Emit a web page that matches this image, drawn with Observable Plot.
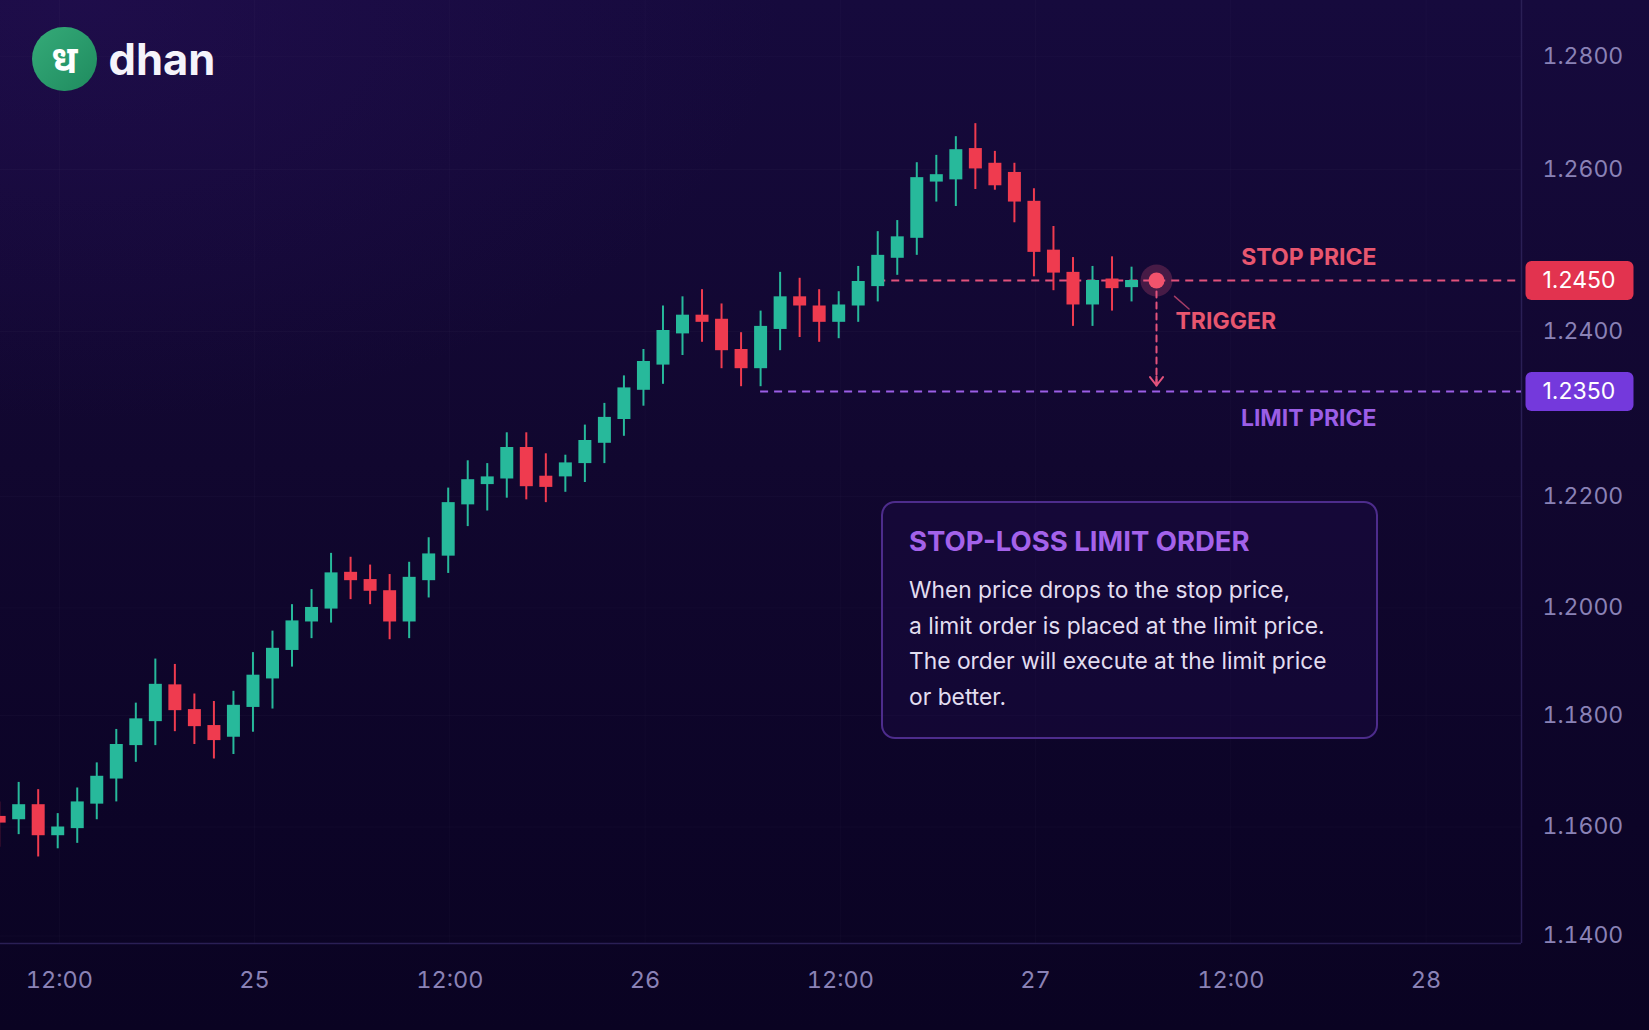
<!DOCTYPE html>
<html lang="en">
<head>
<meta charset="utf-8">
<title>Stop-loss limit order</title>
<script src="https://cdn.jsdelivr.net/npm/d3@7"></script>
<script src="https://cdn.jsdelivr.net/npm/@observablehq/plot@0.6"></script>
<style>
  html, body { margin: 0; padding: 0; }
  body {
    width: 1649px; height: 1030px; overflow: hidden; position: relative;
    font-family: Inter, "Noto Sans", sans-serif;
    background:
      radial-gradient(ellipse 1000px 600px at 5% 0%, rgba(50, 20, 105, 0.30), rgba(50, 20, 105, 0) 70%),
      linear-gradient(180deg, #160a3d 0%, #11072f 45%, #0c0427 80%, #0a0322 100%);
  }
  #chart { position: absolute; left: 0; top: 0; }
  .logo { position: absolute; left: 32px; top: 26.5px; display: flex; align-items: center; }
  .logo .mark {
    width: 64.5px; height: 64.5px; border-radius: 50%;
    background: linear-gradient(135deg, #35aa78 0%, #2a9b6c 50%, #1f8b5e 100%);
    display: flex; align-items: center; justify-content: center;
    color: #ffffff; font-size: 38px; font-weight: 700; line-height: 1;
  }
  .logo .word { margin-left: 12px; color: #f5f3fb; font-size: 43.5px; font-weight: 700; }
  .box {
    position: absolute; left: 881px; top: 500.5px; width: 497px; height: 238px;
    box-sizing: border-box; border: 2px solid #4d2c8c; border-radius: 14px;
    background: rgba(34, 14, 78, 0.30);
  }
  .box .title {
    position: absolute; left: 26px; top: 22px; font-size: 27.5px; line-height: 32px;
    font-weight: 700; color: #a462ea; white-space: nowrap;
  }
  .box .body {
    position: absolute; left: 26px; top: 69.5px; font-size: 22.8px; line-height: 35.6px;
    color: #e2ddf0; white-space: nowrap;
  }
</style>
</head>
<body>
<div id="chart"></div>
<div class="logo"><div class="mark">ध</div><div class="word">dhan</div></div>
<div class="box">
  <div class="title">STOP-LOSS LIMIT ORDER</div>
  <div class="body">When price drops to the stop price,<br>a limit order is placed at the limit price.<br>The order will execute at the limit price<br>or better.</div>
</div>
<script>
// ---- data ----
const open  = [1.1619,1.1613,1.1640,1.1584,1.1597,1.1641,1.1686,1.1746,1.1789,1.1857,
               1.1811,1.1782,1.1761,1.1815,1.1868,1.1921,1.1974,1.1998,1.2064,1.2051,
               1.2031,1.1974,1.2049,1.2093,1.2185,1.2217,1.2225,1.2270,1.2229,1.2228,
               1.2247,1.2276,1.2310,1.2351,1.2372,1.2398,1.2416,1.2412,1.2385,1.2369,
               1.2402,1.2434,1.2425,1.2409,1.2425,1.2444,1.2480,1.2507,1.2583,1.2586,
               1.2637,1.2611,1.2596,1.2557,1.2491,1.2461,1.2426,1.2452,1.2443];
const high  = [1.1645,1.1680,1.1667,1.1624,1.1670,1.1715,1.1775,1.1823,1.1905,1.1895,
               1.1840,1.1826,1.1845,1.1917,1.1957,1.2006,1.2033,1.2098,1.2091,1.2077,
               1.2060,1.2082,1.2126,1.2212,1.2251,1.2247,1.2291,1.2291,1.2261,1.2259,
               1.2302,1.2333,1.2363,1.2385,1.2425,1.2434,1.2441,1.2427,1.2399,1.2420,
               1.2461,1.2453,1.2441,1.2439,1.2469,1.2516,1.2531,1.2612,1.2625,1.2658,
               1.2681,1.2632,1.2611,1.2574,1.2523,1.2481,1.2469,1.2482,1.2468];
const low   = [1.1563,1.1586,1.1545,1.1560,1.1570,1.1613,1.1645,1.1716,1.1746,1.1771,
               1.1748,1.1722,1.1730,1.1770,1.1812,1.1890,1.1943,1.1972,1.2015,1.2006,
               1.1941,1.1943,1.2018,1.2062,1.2146,1.2174,1.2197,1.2194,1.2189,1.2206,
               1.2220,1.2247,1.2286,1.2329,1.2356,1.2380,1.2391,1.2369,1.2354,1.2354,
               1.2384,1.2395,1.2391,1.2394,1.2409,1.2429,1.2457,1.2484,1.2556,1.2550,
               1.2573,1.2572,1.2528,1.2455,1.2440,1.2405,1.2405,1.2420,1.2429];
const close = [1.1607,1.1640,1.1584,1.1600,1.1645,1.1691,1.1748,1.1794,1.1858,1.1809,
               1.1780,1.1755,1.1819,1.1875,1.1925,1.1976,1.2001,1.2063,1.2049,1.2030,
               1.1974,1.2055,1.2097,1.2189,1.2224,1.2228,1.2270,1.2214,1.2213,1.2248,
               1.2280,1.2313,1.2353,1.2375,1.2401,1.2416,1.2409,1.2384,1.2369,1.2405,
               1.2434,1.2425,1.2409,1.2426,1.2449,1.2484,1.2509,1.2589,1.2593,1.2635,
               1.2601,1.2578,1.2556,1.2488,1.2460,1.2426,1.2450,1.2442,1.2450];
const candleStart = Date.UTC(2024, 0, 24, 8, 18);   // first (partly hidden) candle
const candleStepMinutes = 72;
const xTicks = ["2024-01-24T12:00Z","2024-01-25T00:00Z","2024-01-25T12:00Z","2024-01-26T00:00Z",
                "2024-01-26T12:00Z","2024-01-27T00:00Z","2024-01-27T12:00Z","2024-01-28T00:00Z"].map(s => new Date(s));
const yTicks = [1.14, 1.16, 1.18, 1.20, 1.22, 1.24, 1.26, 1.28];
const stopPrice = 1.2450;
const limitPrice = 1.2350;
const triggerTime = new Date("2024-01-27T07:26Z");
const stopLineFromCandle = 45;
const limitLineFromCandle = 39;
const arrowEndPrice = 1.2355;
const leaderEnd = {date: new Date("2024-01-27T09:26Z"), price: 1.2422};

// The reference's price axis is not evenly spaced: these calibration knots
// (price -> share of the plot height) reproduce its tick spacing.
const yKnotPrice = [1.1386, 1.14, 1.16, 1.18, 1.20, 1.22, 1.235, 1.24, 1.245, 1.26, 1.28, 1.2899];
const yKnotShare = [0, 0.00795, 0.12354, 0.24178, 0.35578, 0.47402, 0.58537, 0.64899, 0.70308, 0.82078, 0.94083, 1];

// ---- styles ----
const GREEN = "#27b99b", RED = "#ef3b4f";
const STOP = "#e3527c", LIMIT = "#9b5ee6", LABEL_STOP = "#e8566f";
const AXIS = "#8a82b6";

const warp = d3.scaleLinear(yKnotPrice, yKnotShare);
const fmtY = d3.format(".4f");
const candles = open.map((o, i) => ({
  date: new Date(candleStart + i * candleStepMinutes * 60000),
  open: o, high: high[i], low: low[i], close: close[i], up: close[i] >= o
}));
const xDomain = [new Date("2024-01-24T08:23Z"), new Date("2024-01-28T05:52Z")];

const fmtX = d => d.getUTCHours() === 0 ? d3.utcFormat("%-d")(d) : d3.utcFormat("%H:%M")(d);
const col = d => d.up ? GREEN : RED;

// rounded-rectangle symbol for the price badges
const badgeSymbol = {
  draw(ctx) {
    const w = 54, h = 19.5, r = 6;
    ctx.moveTo(-w + r, -h);
    ctx.lineTo(w - r, -h); ctx.arcTo(w, -h, w, -h + r, r);
    ctx.lineTo(w, h - r); ctx.arcTo(w, h, w - r, h, r);
    ctx.lineTo(-w + r, h); ctx.arcTo(-w, h, -w, h - r, r);
    ctx.lineTo(-w, -h + r); ctx.arcTo(-w, -h, -w + r, -h, r);
    ctx.closePath();
  }
};
const badges = [
  {date: xDomain[1], price: stopPrice, fill: "#e2334f"},
  {date: xDomain[1], price: limitPrice, fill: "#7439dc"}
];

const chart = Plot.plot({
  width: 1649, height: 1030,
  marginLeft: 0, marginRight: 128, marginTop: 0, marginBottom: 87,
  style: {background: "transparent", color: AXIS, fontFamily: "Inter, 'Noto Sans', sans-serif", fontSize: "23.5px", overflow: "visible"},
  x: {type: "utc", domain: xDomain},
  y: {transform: warp, domain: [0, 1]},
  marks: [
    Plot.gridX({ticks: xTicks, stroke: "#ffffff", strokeOpacity: 0.025}),
    // axis marks take their tick positions already on the warped scale
    Plot.gridY({ticks: yTicks.map(warp), stroke: "#ffffff", strokeOpacity: 0.025}),
    Plot.ruleX([xDomain[1]], {stroke: "#2a1f55", strokeWidth: 1.5}),
    Plot.ruleY([yKnotPrice[0]], {stroke: "#2a1f55", strokeWidth: 1.5}),
    Plot.axisX({ticks: xTicks, tickFormat: fmtX, tickSize: 0, tickPadding: 28, label: null, fill: AXIS}),
    Plot.axisY({anchor: "right", ticks: yTicks.map(warp), tickFormat: v => fmtY(warp.invert(v)),
      tickSize: 0, tickPadding: 21, label: null, fill: AXIS, fontSize: 23}),
    // stop & limit lines
    Plot.ruleY([{y: stopPrice, x1: candles[stopLineFromCandle].date, x2: xDomain[1]}],
      {y: "y", x1: "x1", x2: "x2", stroke: STOP, strokeWidth: 2, strokeDasharray: "8,6"}),
    Plot.ruleY([{y: limitPrice, x1: candles[limitLineFromCandle].date, x2: xDomain[1]}],
      {y: "y", x1: "x1", x2: "x2", stroke: LIMIT, strokeWidth: 2, strokeDasharray: "8,6"}),
    // candles
    Plot.ruleX(candles, {x: "date", y1: "low", y2: "high", stroke: col, strokeWidth: 2}),
    Plot.ruleX(candles, {x: "date", y1: "open", y2: "close", stroke: col, strokeWidth: 13}),
    // trigger arrow
    Plot.line([{date: triggerTime, price: stopPrice}, {date: triggerTime, price: arrowEndPrice}],
      {x: "date", y: "price", stroke: STOP, strokeWidth: 2, strokeDasharray: "6,5"}),
    Plot.arrow([{date: triggerTime, p1: stopPrice, p2: arrowEndPrice}],
      {x1: "date", x2: "date", y1: "p1", y2: "p2", stroke: STOP, strokeWidth: 2,
       headLength: 8, headAngle: 75, insetStart: 96}),
    Plot.arrow([{date: triggerTime, p1: stopPrice, date2: leaderEnd.date, p2: leaderEnd.price}],
      {x1: "date", y1: "p1", x2: "date2", y2: "p2",
       stroke: STOP, strokeWidth: 1.5, strokeOpacity: 0.7, headLength: 0, insetStart: 24}),
    Plot.dot([{date: triggerTime, price: stopPrice}], {x: "date", y: "price", r: 16, fill: STOP, fillOpacity: 0.25, stroke: null}),
    Plot.dot([{date: triggerTime, price: stopPrice}], {x: "date", y: "price", r: 8, fill: "#f2536c", stroke: null}),
    // labels
    Plot.text([{date: xDomain[1], price: stopPrice}], {x: "date", y: "price", text: () => "STOP PRICE",
      textAnchor: "end", dx: -145, dy: -23, fill: LABEL_STOP, fontSize: 23, fontWeight: 700}),
    Plot.text([{date: xDomain[1], price: limitPrice}], {x: "date", y: "price", text: () => "LIMIT PRICE",
      textAnchor: "end", dx: -145, dy: 27, fill: LIMIT, fontSize: 23, fontWeight: 700}),
    Plot.text([{date: triggerTime, price: stopPrice}], {x: "date", y: "price", text: () => "TRIGGER",
      textAnchor: "start", dx: 19, dy: 41, fill: LABEL_STOP, fontSize: 23, fontWeight: 700}),
    // price badges on the right axis
    Plot.dot(badges, {x: "date", y: "price", symbol: badgeSymbol, r: 10, fill: "fill", stroke: null, dx: 58}),
    Plot.text(badges, {x: "date", y: "price", text: d => fmtY(d.price), textAnchor: "start",
      dx: 21, fill: "#ffffff", fontSize: 23})
  ]
});
document.getElementById("chart").appendChild(chart);
</script>
</body>
</html>
